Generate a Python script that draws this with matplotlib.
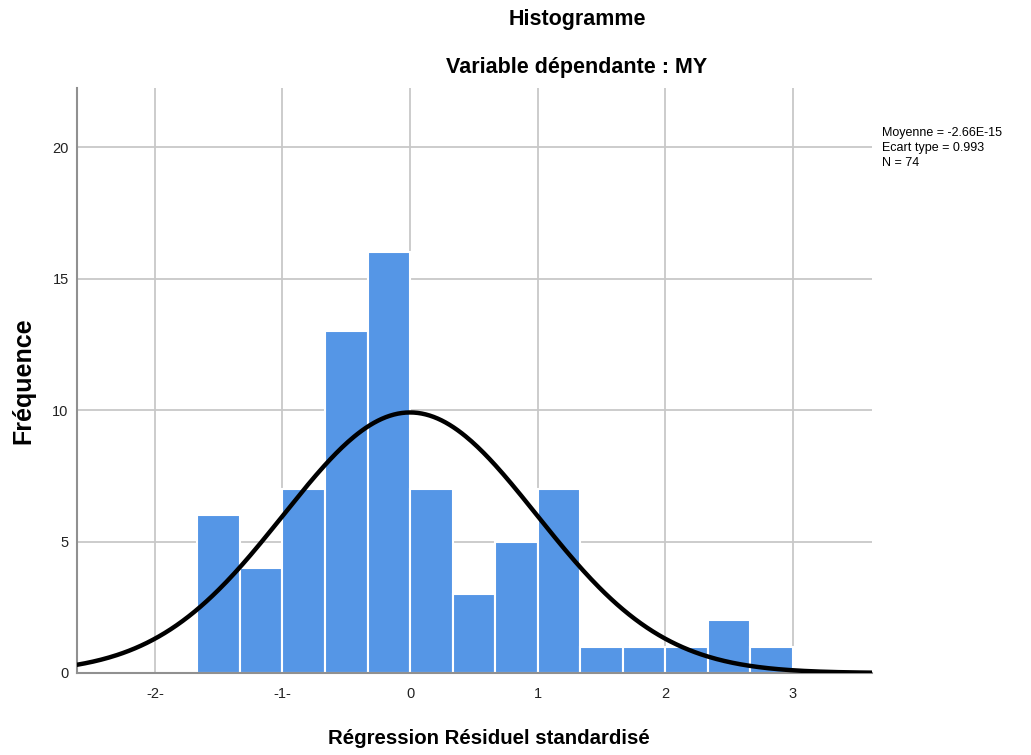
import numpy as np
import matplotlib
matplotlib.use("Agg")
import matplotlib.pyplot as plt

plt.rcParams['font.family'] = ['Liberation Sans', 'DejaVu Sans']

# Data
counts = [6, 4, 7, 13, 16, 7, 3, 5, 7, 1, 1, 1, 2, 1]
bin_start = -5 / 3
bin_width = 1 / 3
mean = -2.66e-15
std = 0.993
n = 74
x_ticks = [-2, -1, 0, 1, 2, 3]
x_tick_labels = ["-2-", "-1-", "0", "1", "2", "3"]
y_ticks = [0, 5, 10, 15, 20]
title = "Histogramme"
subtitle = "Variable dépendante : MY"
xlabel = "Régression Résiduel standardisé"
ylabel = "Fréquence"
stats_text = "Moyenne = -2.66E-15\nEcart type = 0.993\nN = 74"

fig = plt.figure(figsize=(10.31, 7.55), dpi=100)
ax = fig.add_axes([77 / 1031, 1 - 673 / 755, (872 - 77) / 1031, (673 - 88) / 755])

edges = bin_start + bin_width * np.arange(len(counts) + 1)
ax.bar(edges[:-1], counts, width=bin_width, align='edge', color='#5596E6',
       edgecolor='white', linewidth=1.5, zorder=2)

xmin, xmax = -2.61, 3.62
xs = np.linspace(xmin, xmax, 400)
ys = n * bin_width * np.exp(-0.5 * ((xs - mean) / std) ** 2) / (std * np.sqrt(2 * np.pi))
ax.plot(xs, ys, color='black', linewidth=3.2, zorder=3, solid_capstyle='round')

ax.set_xlim(xmin, xmax)
ax.set_ylim(0, 22.25)
ax.set_xticks(x_ticks)
ax.set_xticklabels(x_tick_labels)
ax.set_yticks(y_ticks)
ax.grid(True, color='#c8c8c8', linewidth=1.3, zorder=0)
ax.set_axisbelow(True)
for s in ['top', 'right']:
    ax.spines[s].set_visible(False)
for s in ['left', 'bottom']:
    ax.spines[s].set_color('#909090')
    ax.spines[s].set_linewidth(1.5)
ax.tick_params(length=0, labelsize=10.5, colors='#222222')
ax.tick_params(axis='x', pad=10)
ax.tick_params(axis='y', pad=6)

fig.text(577 / 1031, 1 - 20 / 755, title, ha='center', va='center', fontsize=15.5, fontweight='bold')
fig.text(577 / 1031, 1 - 68 / 755, subtitle, ha='center', va='center', fontsize=15.5, fontweight='bold')
fig.text(489 / 1031, 1 - 738 / 755, xlabel, ha='center', va='center', fontsize=14.7, fontweight='bold')
fig.text(23 / 1031, 1 - 381 / 755, ylabel, ha='center', va='center', fontsize=18,
         fontweight='bold', rotation=90)
fig.text(882 / 1031, 1 - 148 / 755, stats_text, ha='left', va='center', fontsize=9,
         linespacing=1.35)

fig.savefig("out.png", dpi=100)
